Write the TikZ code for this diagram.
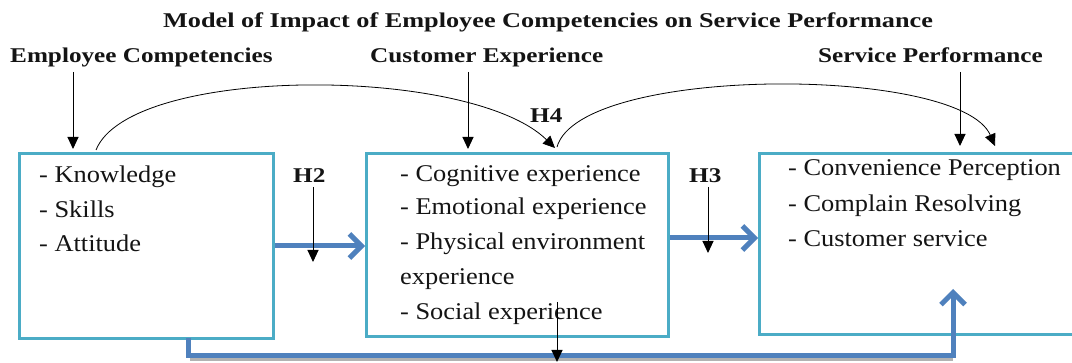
\documentclass[tikz,border=0pt]{standalone}
\usepackage{fontspec}
\setmainfont{Liberation Serif}
\newfontfamily\bodyfont[FakeStretch=1.1]{Liberation Serif}
\newfontfamily\headfont[FakeStretch=1.2]{Liberation Serif}
\newfontfamily\titlefont[FakeStretch=1.25]{Liberation Serif}
\usetikzlibrary{arrows.meta}
\definecolor{boxc}{HTML}{4BACC6}
\definecolor{bluc}{HTML}{4F81BD}
\definecolor{txtc}{HTML}{141414}
\tikzset{
  box/.style={draw=boxc, line width=3.2pt, fill=white, inner sep=0pt},
  body/.style={anchor=base west, inner sep=0pt, text=txtc, font=\bodyfont\fontsize{24}{28}\selectfont},
  head/.style={anchor=base west, inner sep=0pt, text=txtc, font=\headfont\bfseries\fontsize{21}{25}\selectfont},
  blk/.style={draw=black, line width=1pt, -{Triangle[width=11pt,length=12pt]}},
  blu/.style={draw=bluc, line width=5pt, -{Straight Barb[length=12pt,width=24pt]}},
}
\begin{document}
\begin{tikzpicture}[x=1pt,y=-1pt]
\clip (0,0) rectangle (1072,363);
\fill[white] (0,0) rectangle (1072,363);
% boxes
\node[box, minimum width=254pt, minimum height=185pt, anchor=north west] (b1) at (18,152) {};
\node[box, minimum width=302pt, minimum height=183pt, anchor=north west] (b2) at (365,152) {};
\node[box, minimum width=330pt, minimum height=181pt, anchor=north west] (b3) at (758,152) {};
% title and headings
\node[head, font=\titlefont\bfseries\fontsize{21}{25}\selectfont] (title) at (163,28) {Model of Impact of Employee Competencies on Service Performance};
\node[head] (hEC) at (10,63) {Employee Competencies};
\node[head] (hCE) at (370,63) {Customer Experience};
\node[head] (hSP) at (818,63) {Service Performance};
% box texts
\node[body] (k1) at (39,183) {- Knowledge};
\node[body] (k2) at (39,218) {- Skills};
\node[body] (k3) at (39,252) {- Attitude};
\node[body] (c1) at (400,182) {- Cognitive experience};
\node[body] (c2) at (400,215) {- Emotional experience};
\node[body] (c3) at (400,250) {- Physical environment};
\node[body] (c4) at (400,285) {experience};
\node[body] (c5) at (400,320) {- Social experience};
\node[body] (s1) at (788,176) {- Convenience Perception};
\node[body] (s2) at (788,212) {- Complain Resolving};
\node[body] (s3) at (788,247) {- Customer service};
% hypothesis labels
\node[head] (H2) at (293,183) {H2};
\node[head] (H3) at (689,183) {H3};
\node[head] (H4) at (530,123) {H4};
% coordinates
\coordinate (a1s) at (73,72);
\coordinate (a1e) at (73,149);
\coordinate (a2s) at (468,72);
\coordinate (a2e) at (468,149);
\coordinate (a3s) at (960,72);
\coordinate (a3e) at (960,146);
\coordinate (c1s) at (96,150);
\coordinate (c1e) at (555,148);
\coordinate (c2s) at (557,147);
\coordinate (c2e) at (995,146);
\coordinate (h2s) at (313,187);
\coordinate (h2e) at (313,262);
\coordinate (h3s) at (708,187);
\coordinate (h3e) at (708,253);
\coordinate (bs) at (188,338);
\coordinate (bc1) at (188,356);
\coordinate (bc2) at (953,356);
\coordinate (be) at (953,289);
\coordinate (ds) at (557,302);
\coordinate (de) at (557,362);
% heading arrows
\draw[blk] (a1s) -- (a1e);
\draw[blk] (a2s) -- (a2e);
\draw[blk] (a3s) -- (a3e);
% curved H4 arrows
\draw[blk, line width=0.8pt] (c1s) .. controls (130,65) and (470,65) .. (c1e);
\draw[blk, line width=0.8pt] (c2s) .. controls (580,65) and (960,65) .. (c2e);
% blue arrows
\draw[blu] (b1.east |- 0,246) -- (b2.west |- 0,246);
\draw[blu] (b2.east |- 0,238) -- (b3.west |- 0,238);
\draw[gray!60, line width=3pt] (190,360) -- (953,360);
\draw[blu] (bs) -- (bc1) -- (bc2) -- (be);
% small black arrows
\draw[blk] (h2s) -- (h2e);
\draw[blk] (h3s) -- (h3e);
\draw[blk] (ds) -- (de);
\end{tikzpicture}
\end{document}
